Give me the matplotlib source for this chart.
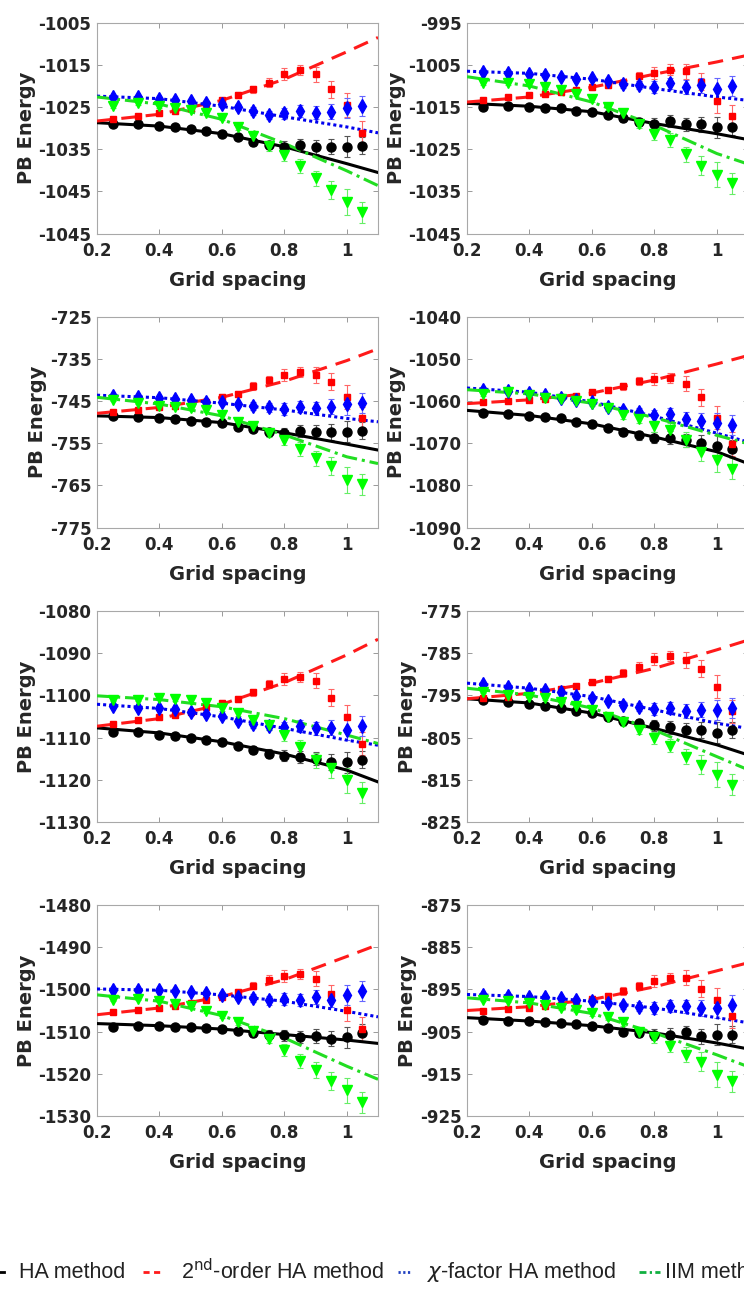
import matplotlib
matplotlib.use("Agg")
import matplotlib.pyplot as plt
from matplotlib.lines import Line2D

# grid spacings of the measured points and of the sampled fit curves
h = [0.25, 0.33, 0.4, 0.45, 0.5, 0.55, 0.6, 0.65, 0.7, 0.75, 0.8, 0.85, 0.9, 0.95, 1.0, 1.05]
fit_h = [0.2, 0.4, 0.6, 0.8, 1.0, 1.1]

# error bar half-widths per method (similar in all)
err_ha = [0.3, 0.3, 0.3, 0.3, 0.4, 0.4, 0.5, 0.6, 0.9, 1.0, 1.3, 1.5, 1.6, 1.8, 2.5, 2.0]
err_ha2 = [0.3, 0.3, 0.4, 0.4, 0.5, 0.5, 0.6, 0.7, 0.9, 1.0, 1.4, 1.2, 1.8, 2.0, 2.8, 2.8]
err_chi = [0.3, 0.3, 0.4, 0.4, 0.5, 0.5, 0.6, 0.7, 0.9, 1.0, 1.4, 1.4, 1.6, 1.8, 2.4, 2.4]
err_iim = [0.3, 0.3, 0.4, 0.4, 0.5, 0.5, 0.6, 0.7, 0.9, 1.0, 1.4, 1.6, 1.8, 2.2, 3.0, 2.5]

# panel 1 (left, row 1)
p1_ha = [-1029.1, -1029.1, -1029.5, -1029.8, -1030.3, -1030.7, -1031.3, -1032.1, -1033.2, -1034.0, -1034.4, -1034.0, -1034.4, -1034.4, -1034.4, -1034.2]
p1_ha2 = [-1027.8, -1027.2, -1026.5, -1026.0, -1025.3, -1024.3, -1023.4, -1022.2, -1020.8, -1019.2, -1017.2, -1016.2, -1017.2, -1020.8, -1024.5, -1031.1]
p1_chi = [-1022.6, -1022.6, -1023.0, -1023.2, -1023.6, -1024.1, -1024.3, -1024.9, -1025.9, -1026.9, -1026.5, -1026.0, -1026.3, -1026.1, -1025.3, -1024.8]
p1_iim = [-1024.8, -1024.1, -1024.8, -1025.3, -1025.7, -1026.4, -1027.5, -1029.7, -1031.9, -1034.3, -1036.4, -1038.9, -1041.9, -1044.6, -1047.5, -1049.9]
p1_ha_fit = [-1028.7, -1029.5, -1031.3, -1034.4, -1038.4, -1040.5]
p1_ha2_fit = [-1028.3, -1026.7, -1023.4, -1018.4, -1011.9, -1008.5]
p1_chi_fit = [-1022.4, -1023.0, -1024.8, -1027.3, -1029.7, -1031.1]
p1_iim_fit = [-1022.6, -1024.3, -1027.9, -1033.6, -1040.1, -1043.6]
p1_ylim = (-1055, -1005)
p1_yticks = ["-1045", "-1045", "-1035", "-1025", "-1015", "-1005"]

# panel 2 (right, row 1)
p2_ha = [-1014.9, -1014.8, -1014.9, -1015.2, -1015.3, -1016.0, -1016.1, -1016.9, -1017.7, -1018.5, -1018.9, -1018.3, -1019.1, -1019.1, -1019.8, -1019.7]
p2_ha2 = [-1013.2, -1012.7, -1012.2, -1011.9, -1011.4, -1011.0, -1010.3, -1009.8, -1009.2, -1007.7, -1006.9, -1006.1, -1006.5, -1009.0, -1013.5, -1017.2]
p2_chi = [-1006.8, -1006.9, -1007.2, -1007.5, -1007.8, -1008.3, -1008.2, -1008.8, -1009.6, -1009.8, -1010.3, -1009.4, -1010.2, -1009.8, -1010.6, -1010.0]
p2_iim = [-1009.4, -1009.4, -1009.6, -1010.3, -1011.0, -1011.9, -1013.1, -1014.9, -1016.5, -1018.9, -1021.3, -1022.8, -1026.2, -1028.9, -1031.0, -1033.1]
p2_ha_fit = [-1014.1, -1014.8, -1016.1, -1018.9, -1021.3, -1022.7]
p2_ha2_fit = [-1013.8, -1012.6, -1010.3, -1007.2, -1004.3, -1002.7]
p2_chi_fit = [-1006.5, -1007.0, -1008.4, -1010.6, -1012.6, -1013.4]
p2_iim_fit = [-1007.8, -1010.0, -1013.8, -1019.3, -1026.0, -1028.5]
p2_ylim = (-1045, -995)
p2_yticks = ["-1045", "-1035", "-1025", "-1015", "-1005", "-995"]

# panel 3 (left, row 2)
p3_ha = [-748.5, -748.7, -748.9, -749.2, -749.6, -750.0, -750.3, -751.1, -751.5, -752.3, -752.6, -752.1, -752.3, -752.3, -752.3, -752.0]
p3_ha2 = [-747.5, -747.0, -746.3, -746.2, -745.7, -745.1, -744.0, -743.4, -741.4, -740.0, -738.8, -738.2, -738.8, -740.4, -744.1, -749.1]
p3_chi = [-743.8, -744.0, -744.2, -744.4, -744.7, -745.1, -745.3, -745.8, -746.2, -746.5, -746.8, -746.3, -746.7, -746.3, -745.8, -745.4]
p3_iim = [-744.7, -745.5, -746.2, -746.3, -746.7, -747.1, -748.3, -749.9, -750.9, -752.5, -754.1, -756.4, -758.6, -760.4, -763.7, -764.7]
p3_ha_fit = [-748.5, -748.9, -750.1, -752.5, -755.2, -756.6]
p3_ha2_fit = [-747.9, -746.5, -744.1, -740.3, -735.4, -732.6]
p3_chi_fit = [-743.6, -744.2, -745.5, -747.1, -749.1, -749.9]
p3_iim_fit = [-744.1, -745.7, -748.5, -753.0, -758.2, -759.8]
p3_ylim = (-775, -725)
p3_yticks = ["-775", "-765", "-755", "-745", "-735", "-725"]

# panel 4 (right, row 2)
p4_ha = [-1062.8, -1063.0, -1063.5, -1063.8, -1064.0, -1065.0, -1065.5, -1066.4, -1067.3, -1068.1, -1068.7, -1068.7, -1069.3, -1069.9, -1070.6, -1071.3]
p4_ha2 = [-1060.2, -1060.0, -1059.7, -1059.4, -1059.1, -1058.7, -1057.9, -1057.3, -1056.5, -1055.3, -1054.7, -1054.5, -1055.9, -1059.1, -1063.9, -1070.1]
p4_chi = [-1057.3, -1057.6, -1058.1, -1058.5, -1059.2, -1059.8, -1060.2, -1061.3, -1062.2, -1062.6, -1063.4, -1063.1, -1064.2, -1064.6, -1065.2, -1065.7]
p4_iim = [-1058.4, -1057.9, -1058.5, -1059.2, -1059.4, -1060.0, -1060.6, -1061.6, -1063.4, -1064.2, -1066.0, -1066.9, -1069.1, -1072.0, -1073.9, -1076.0]
p4_ha_fit = [-1062.2, -1063.4, -1065.4, -1068.5, -1072.0, -1074.8]
p4_ha2_fit = [-1060.6, -1059.7, -1058.1, -1055.0, -1051.2, -1049.2]
p4_chi_fit = [-1056.9, -1057.9, -1060.2, -1063.6, -1067.6, -1069.7]
p4_iim_fit = [-1057.3, -1058.3, -1060.5, -1063.9, -1068.1, -1070.1]
p4_ylim = (-1090, -1040)
p4_yticks = ["-1090", "-1080", "-1070", "-1060", "-1050", "-1040"]

# panel 5 (left, row 3)
p5_ha = [-1108.6, -1108.7, -1109.3, -1109.6, -1110.0, -1110.6, -1111.0, -1112.0, -1113.0, -1113.8, -1114.3, -1114.6, -1115.0, -1115.8, -1115.9, -1115.2]
p5_ha2 = [-1106.7, -1105.9, -1105.2, -1104.7, -1103.9, -1102.7, -1101.8, -1100.9, -1099.3, -1097.3, -1096.1, -1095.6, -1096.5, -1100.6, -1105.1, -1111.4]
p5_chi = [-1102.5, -1102.9, -1103.1, -1103.3, -1103.9, -1104.4, -1104.9, -1106.0, -1106.8, -1107.2, -1107.6, -1107.3, -1107.8, -1107.7, -1108.1, -1107.3]
p5_iim = [-1101.1, -1101.1, -1100.7, -1100.9, -1101.1, -1101.9, -1103.1, -1104.1, -1105.9, -1107.1, -1109.4, -1112.2, -1115.4, -1117.3, -1120.1, -1123.1]
p5_ha_fit = [-1107.7, -1108.9, -1111.0, -1113.9, -1117.7, -1120.5]
p5_ha2_fit = [-1107.3, -1105.5, -1102.1, -1097.0, -1090.4, -1086.7]
p5_chi_fit = [-1102.1, -1103.1, -1105.1, -1107.8, -1110.6, -1111.8]
p5_iim_fit = [-1100.1, -1101.0, -1102.7, -1105.5, -1109.4, -1111.4]
p5_ylim = (-1130, -1080)
p5_yticks = ["-1130", "-1120", "-1110", "-1100", "-1090", "-1080"]

# panel 6 (right, row 3)
p6_ha = [-796.1, -796.5, -797.0, -797.5, -797.9, -798.7, -799.2, -800.0, -801.0, -801.6, -802.1, -802.6, -803.2, -803.2, -803.8, -803.2]
p6_ha2 = [-795.7, -795.3, -794.7, -794.2, -793.5, -792.7, -791.9, -791.2, -789.7, -788.2, -786.4, -785.6, -786.6, -788.7, -792.9, -798.8]
p6_chi = [-792.4, -792.9, -793.5, -793.8, -794.2, -795.1, -795.5, -796.3, -797.2, -797.8, -798.2, -798.0, -798.7, -798.4, -798.4, -798.0]
p6_iim = [-794.2, -794.9, -795.3, -795.7, -796.5, -797.5, -798.4, -800.0, -801.3, -803.2, -805.1, -806.9, -809.5, -811.4, -813.8, -816.2]
p6_ha_fit = [-795.8, -796.8, -799.2, -802.8, -806.7, -809.1]
p6_ha2_fit = [-795.8, -794.5, -792.1, -788.6, -784.2, -781.9]
p6_chi_fit = [-792.1, -793.3, -795.3, -798.4, -801.6, -802.8]
p6_iim_fit = [-793.3, -794.9, -798.0, -803.2, -809.5, -812.6]
p6_ylim = (-825, -775)
p6_yticks = ["-825", "-815", "-805", "-795", "-785", "-775"]

# panel 7 (left, row 4)
p7_ha = [-1508.9, -1508.7, -1508.7, -1508.9, -1509.0, -1509.1, -1509.5, -1509.9, -1510.3, -1510.7, -1510.9, -1511.3, -1511.1, -1511.7, -1511.3, -1510.3]
p7_ha2 = [-1505.4, -1504.8, -1504.4, -1503.9, -1503.2, -1502.4, -1501.7, -1500.5, -1499.1, -1497.7, -1496.8, -1496.4, -1497.5, -1501.0, -1504.8, -1509.4]
p7_chi = [-1500.1, -1500.1, -1500.2, -1500.3, -1500.7, -1500.9, -1501.3, -1501.8, -1502.0, -1502.6, -1502.3, -1502.6, -1501.8, -1502.4, -1501.3, -1500.3]
p7_iim = [-1502.4, -1502.3, -1502.7, -1503.4, -1504.0, -1505.2, -1506.2, -1507.8, -1509.9, -1511.7, -1514.3, -1517.0, -1519.1, -1521.7, -1523.9, -1526.7]
p7_ha_fit = [-1508.1, -1508.6, -1509.4, -1510.7, -1512.0, -1512.8]
p7_ha2_fit = [-1506.0, -1504.4, -1501.7, -1497.7, -1492.2, -1489.4]
p7_chi_fit = [-1499.9, -1500.2, -1501.3, -1502.8, -1505.2, -1506.5]
p7_iim_fit = [-1501.3, -1502.8, -1506.2, -1511.5, -1518.2, -1521.3]
p7_ylim = (-1530, -1480)
p7_yticks = ["-1530", "-1520", "-1510", "-1500", "-1490", "-1480"]

# panel 8 (right, row 4)
p8_ha = [-902.3, -902.4, -902.5, -902.8, -902.9, -903.3, -903.6, -904.1, -905.2, -905.3, -905.7, -905.7, -905.2, -906.1, -905.7, -905.7]
p8_ha2 = [-900.0, -899.6, -899.4, -899.0, -898.6, -897.8, -897.2, -896.6, -895.4, -894.2, -893.0, -892.2, -892.2, -894.8, -897.4, -901.3]
p8_chi = [-896.4, -896.6, -896.8, -896.8, -897.1, -897.5, -897.8, -898.3, -898.8, -899.1, -899.4, -899.0, -899.0, -899.4, -899.4, -898.8]
p8_iim = [-897.4, -897.8, -898.3, -898.8, -899.4, -899.8, -900.7, -901.5, -902.8, -905.2, -906.3, -908.3, -910.5, -912.1, -915.2, -916.8]
p8_ha_fit = [-901.7, -902.5, -903.6, -905.3, -907.7, -909.1]
p8_ha2_fit = [-900.0, -899.1, -897.4, -894.4, -890.6, -888.7]
p8_chi_fit = [-896.2, -896.7, -897.8, -899.4, -901.7, -902.9]
p8_iim_fit = [-897.0, -898.2, -900.7, -905.3, -910.5, -913.3]
p8_ylim = (-925, -875)
p8_yticks = ["-925", "-915", "-905", "-895", "-885", "-875"]

xticks = [0.2, 0.4, 0.6, 0.8, 1.0]
xtick_labels = ["0.2", "0.4", "0.6", "0.8", "1"]
legend_labels = ["HA method", "2$^{\\rm nd}$-order HA method",
                 "$\\chi$-factor HA method", "IIM method"]

panels = [
    (p1_ha, p1_ha2, p1_chi, p1_iim, p1_ha_fit, p1_ha2_fit, p1_chi_fit, p1_iim_fit, p1_ylim, p1_yticks),
    (p2_ha, p2_ha2, p2_chi, p2_iim, p2_ha_fit, p2_ha2_fit, p2_chi_fit, p2_iim_fit, p2_ylim, p2_yticks),
    (p3_ha, p3_ha2, p3_chi, p3_iim, p3_ha_fit, p3_ha2_fit, p3_chi_fit, p3_iim_fit, p3_ylim, p3_yticks),
    (p4_ha, p4_ha2, p4_chi, p4_iim, p4_ha_fit, p4_ha2_fit, p4_chi_fit, p4_iim_fit, p4_ylim, p4_yticks),
    (p5_ha, p5_ha2, p5_chi, p5_iim, p5_ha_fit, p5_ha2_fit, p5_chi_fit, p5_iim_fit, p5_ylim, p5_yticks),
    (p6_ha, p6_ha2, p6_chi, p6_iim, p6_ha_fit, p6_ha2_fit, p6_chi_fit, p6_iim_fit, p6_ylim, p6_yticks),
    (p7_ha, p7_ha2, p7_chi, p7_iim, p7_ha_fit, p7_ha2_fit, p7_chi_fit, p7_iim_fit, p7_ylim, p7_yticks),
    (p8_ha, p8_ha2, p8_chi, p8_iim, p8_ha_fit, p8_ha2_fit, p8_chi_fit, p8_iim_fit, p8_ylim, p8_yticks),
]

# style of each method: marker, marker colour, errorbar colour, line colour, line style
styles = [
    ("o", "black", "#555555", "black", "-"),
    ("s", "#ff0000", "#ff6666", "#ff1a1a", (0, (5, 3))),
    ("d", "#0000ff", "#6666ff", "#0000ee", (0, (1, 1))),
    ("v", "#00ff00", "#66ee66", "#22dd22", (0, (5, 1.6, 1, 1.6))),
]
# shorter dash patterns for the small legend handles
legend_styles = ["-", (0, (2.2, 1.6)), (0, (0.8, 0.9)), (0, (2.5, 1.2, 0.8, 1.2))]
legend_colors = ["black", "#ff1a1a", "#2040c0", "#10b040"]
marker_sizes = [6.5, 5.0, 7.0, 6.5]
errors = [err_ha, err_ha2, err_chi, err_iim]

W, H = 744, 1294
fig = plt.figure(figsize=(W / 100, H / 100), dpi=100)

col_left = [97, 467]
row_top = [22.7, 316.7, 611, 905]
ax_w, ax_h = 281, 211
tick_color = "#262626"

for i, p in enumerate(panels):
    row, col = divmod(i, 2)
    left = col_left[col] / W
    bottom = 1 - (row_top[row] + ax_h) / H
    ax = fig.add_axes([left, bottom, ax_w / W, ax_h / H])
    series = p[0:4]
    fits = p[4:8]
    ylim, ylabels = p[8], p[9]

    for (mk, mc, ec, lc, ls), y, fy, err, ms in zip(styles, series, fits, errors, marker_sizes):
        ax.errorbar(h, y, yerr=err, fmt="none", ecolor=ec, elinewidth=0.8,
                    capsize=2.2, capthick=0.8, zorder=2)
        ax.plot(fit_h, fy, color=lc, linestyle=ls, linewidth=2.2, zorder=3)
        ax.plot(h, y, linestyle="none", marker=mk, markersize=ms,
                markerfacecolor=mc, markeredgecolor=mc, zorder=4)

    ax.set_xlim(0.2, 1.1)
    ax.set_ylim(*ylim)
    ax.set_xticks(xticks)
    ax.set_xticklabels(xtick_labels)
    ax.set_yticks([ylim[0] + 10 * k for k in range(6)])
    ax.set_yticklabels(ylabels)
    ax.tick_params(direction="in", top=True, right=True, length=3.5, width=0.7,
                   color="#999999", labelsize=12, labelcolor=tick_color)
    ax.tick_params(axis="x", pad=6)
    ax.tick_params(axis="y", pad=4)
    for lab in ax.get_xticklabels() + ax.get_yticklabels():
        lab.set_fontweight("bold")
    for sp in ax.spines.values():
        sp.set_color("#a8a8a8")
        sp.set_linewidth(0.8)
    ax.set_xlabel("Grid spacing", fontsize=14, fontweight="bold", color=tick_color, labelpad=8)
    ax.set_ylabel("PB Energy", fontsize=14, fontweight="bold", color=tick_color, labelpad=2)

# legend strip along the bottom (cut off at both sides like the source)
leg_y = 1 - 1272 / H
handle_px = [(-20, 4), (143, 164), (398, 410), (639, 660)]
text_px = [19, 181, 427, 665]
for ls, lc, (x0, x1), tx, lab in zip(legend_styles, legend_colors, handle_px, text_px, legend_labels):
    fig.add_artist(Line2D([x0 / W, x1 / W], [leg_y, leg_y], transform=fig.transFigure,
                          color=lc, linestyle=ls, linewidth=2.0))
    fig.text(tx / W, leg_y, lab, fontsize=15.5, family="Liberation Sans",
             va="center", ha="left", color="#222222")

fig.savefig("out.png", dpi=100)
